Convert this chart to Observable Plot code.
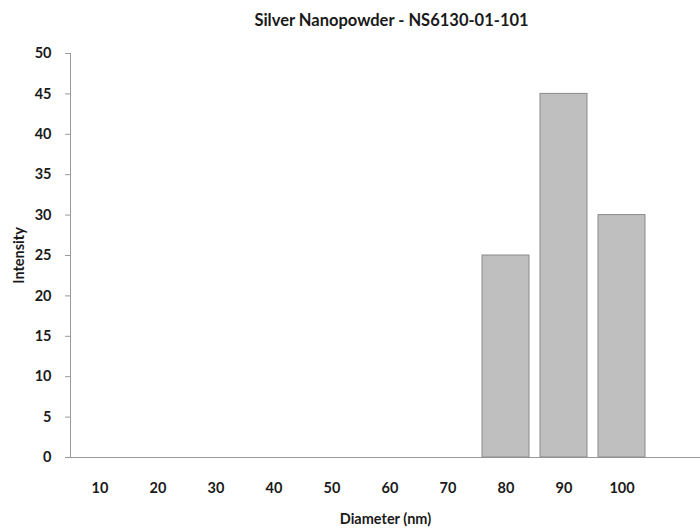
<!DOCTYPE html>
<html>
<head>
<meta charset="utf-8">
<script src="https://cdn.jsdelivr.net/npm/d3@7"></script>
<script src="https://cdn.jsdelivr.net/npm/@observablehq/plot@0.6"></script>
<style>
  html, body { margin: 0; padding: 0; background: #fff; }
  svg { font-family: Lato, "Open Sans", sans-serif; }
</style>
</head>
<body>
<div id="chart"></div>
<script>
const title = "Silver Nanopowder - NS6130-01-101";
const diameters = ["10", "20", "30", "40", "50", "60", "70", "80", "90", "100"];
const intensity = [0, 0, 0, 0, 0, 0, 0, 25, 45, 30];
const yTicks = [0, 5, 10, 15, 20, 25, 30, 35, 40, 45, 50];
const xLabel = "Diameter (nm)";
const yLabel = "Intensity";

const data = diameters.map((d, i) => ({diameter: d, value: intensity[i]}));

const chart = Plot.plot({
  width: 700,
  height: 531,
  marginTop: 53,
  marginBottom: 74,
  marginLeft: 70,
  marginRight: 0,
  style: {fontFamily: "Lato, 'Open Sans', sans-serif", fontWeight: "bold", fontSize: "14px", color: "#1a1a1a"},
  x: {domain: diameters, range: [70, 650], paddingInner: 0.19, paddingOuter: 0.095},
  y: {domain: [0, 50]},
  marks: [
    Plot.frame({anchor: "left", stroke: "#9a9a9a"}),
    Plot.ruleY([0], {stroke: "#9a9a9a"}),
    Plot.barY(data, {x: "diameter", y: "value", fill: "#bfbfbf", stroke: "#8a8a8a", strokeWidth: 1}),
    Plot.axisY({ticks: yTicks, tickSize: 5, tickPadding: 14, stroke: "#9a9a9a", label: yLabel, labelArrow: "none", labelAnchor: "center", labelOffset: 57, fontSize: 14.5, fontWeight: "bold"}),
    Plot.axisX({tickSize: 0, tickPadding: 25, label: xLabel, labelArrow: "none", labelAnchor: "center", labelOffset: 66, fontSize: 14.5, fontWeight: "bold"}),
    Plot.text([title], {frameAnchor: "top", x: null, dy: -39, text: d => d, fontSize: 16.5, fontWeight: "bold", dx: 6, fill: "#1a1a1a"})
  ]
});
document.getElementById("chart").appendChild(chart);
</script>
</body>
</html>
